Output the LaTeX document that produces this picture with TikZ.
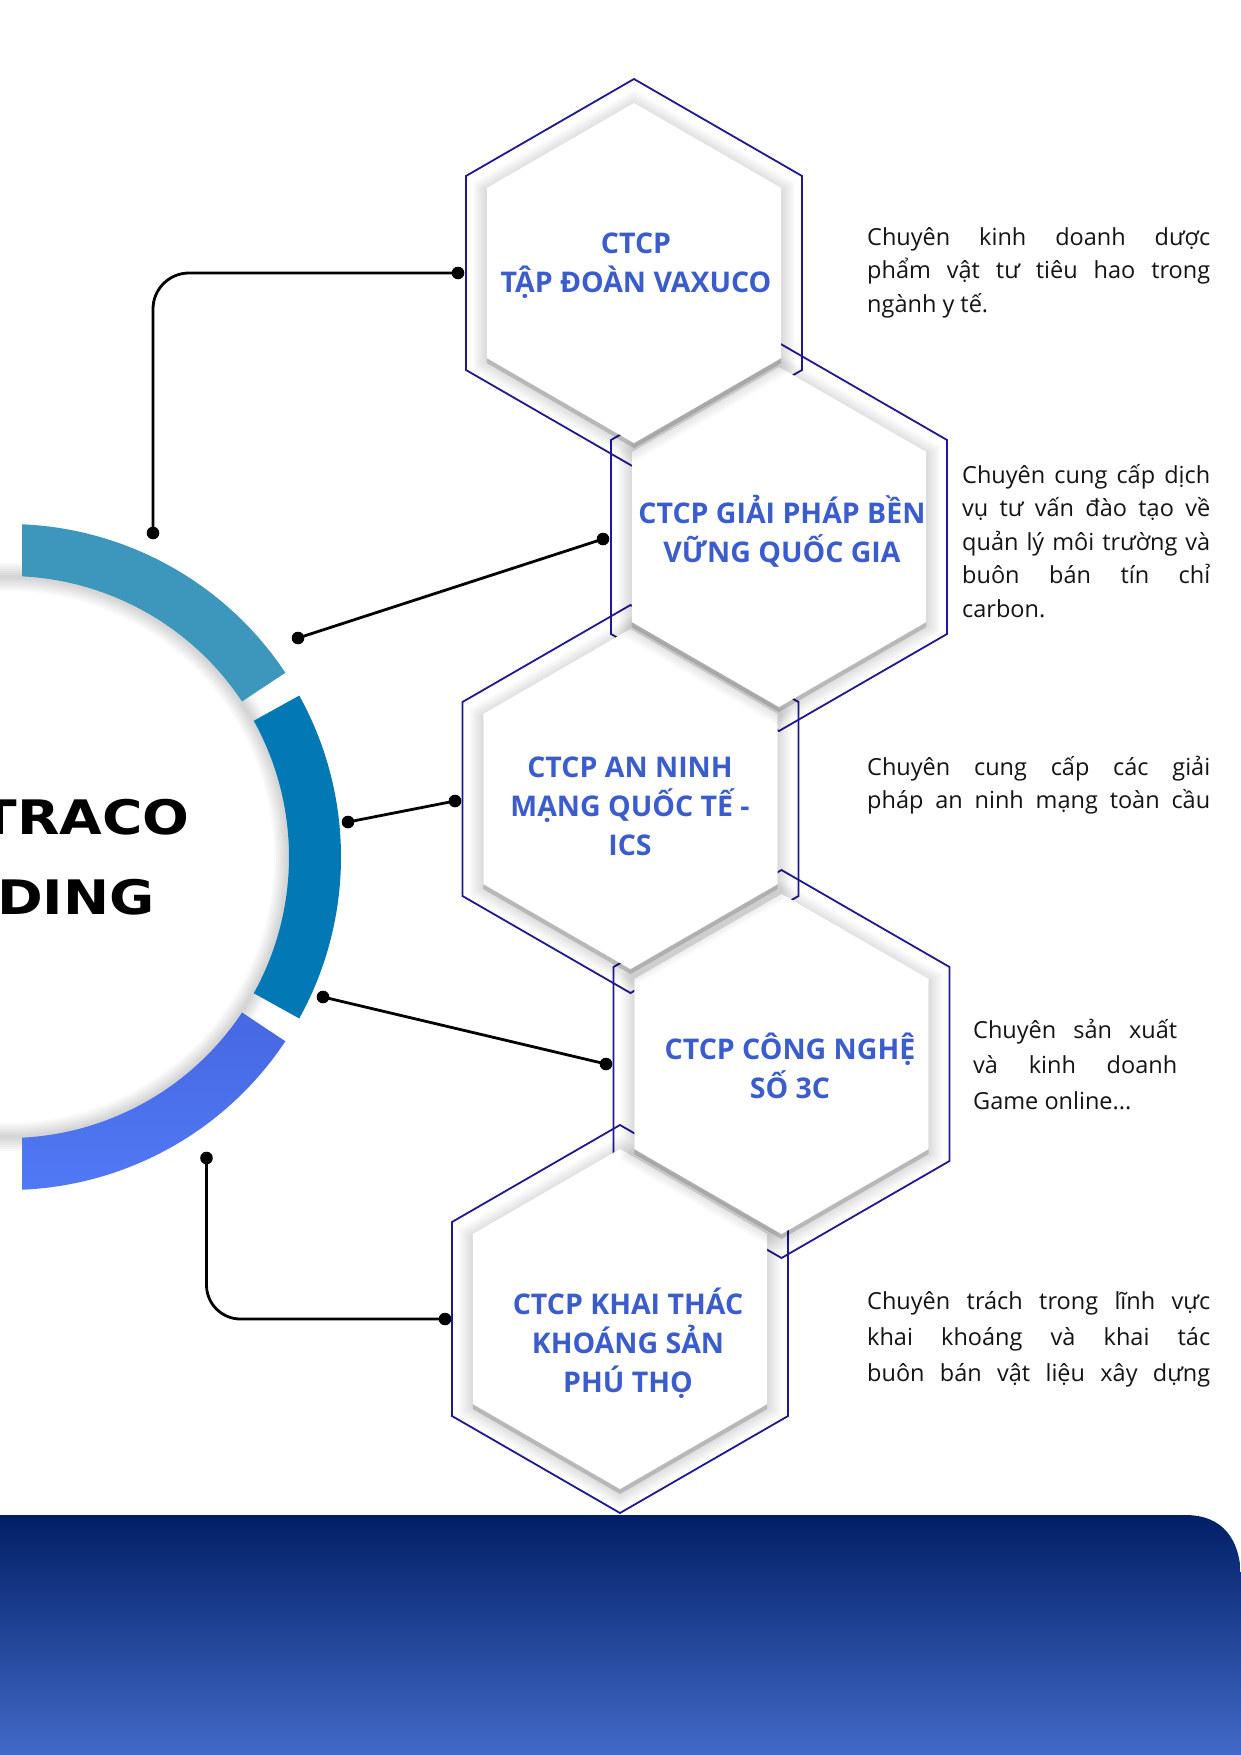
\documentclass[tikz,border=0pt]{standalone}
\usepackage{fontspec}
\setmainfont{Open Sans}
\newfontfamily\techfont[FakeStretch=1.16]{DejaVu Sans Bold}
\usetikzlibrary{calc}
\definecolor{hexblue}{RGB}{58,92,204}
\definecolor{outl}{RGB}{31,24,148}
\definecolor{arcA}{RGB}{61,151,188}
\definecolor{arcB}{RGB}{2,121,181}
\definecolor{arcC}{RGB}{82,122,246}
\definecolor{arcCt}{RGB}{70,104,226}
\definecolor{bandtop}{RGB}{1,31,102}
\definecolor{bandbot}{RGB}{66,106,200}
\definecolor{desctext}{RGB}{20,20,20}
\newcommand\hexp[3]{({#1},{#2-#3}) -- ({#1+0.8660254*#3},{#2-0.5*#3}) -- ({#1+0.8660254*#3},{#2+0.5*#3}) -- ({#1},{#2+#3}) -- ({#1-0.8660254*#3},{#2+0.5*#3}) -- ({#1-0.8660254*#3},{#2-0.5*#3}) -- cycle}
\newcommand\hexbody[2]{%
  \fill[black,fill opacity=0.16] \hexp{#1}{#2+5}{170};
  \foreach \w in {4,8,...,28}{\draw[black,draw opacity=0.019,line width=\w pt,line join=miter] \hexp{#1}{#2+3}{170};}
  \fill[white] \hexp{#1}{#2}{170};}
\tikzset{
  conn/.style={black,line width=2.8pt},
  hexoutline/.style={outl,line width=1.8pt,line join=miter},
  hexlabel/.style={text=hexblue,font=\fontsize{28.5}{39}\selectfont\bfseries,align=center,anchor=base,inner sep=0pt},
  desc/.style={text=desctext,font=\fontsize{23.5}{33.5}\selectfont,align=justify,anchor=base west,inner sep=0pt},
  bigtxt/.style={font=\techfont\fontsize{47.5}{50}\selectfont,anchor=base east,inner sep=0pt}
}
\begin{document}
\begin{tikzpicture}[x=1pt,y=-1pt]
\useasboundingbox (0,0) rectangle (1241,1755);
\fill[white] (0,0) rectangle (1241,1755);

% ---- central disk and ring ----
\coordinate (C) at (8,857);
\fill[white] (C) circle[radius=280];
\foreach \w in {4,8,...,28}{\draw[black,draw opacity=0.025,line width=\w pt] (C) circle[radius=280];}
\begin{scope}
\clip (22,400) rectangle (400,1300);
\fill[arcA] ($(C)+(-96:333)$) arc[start angle=-96,end angle=-33.6,radius=333] -- ($(C)+(-33.6:281)$) arc[start angle=-33.6,end angle=-96,radius=281] -- cycle;
\fill[arcB] ($(C)+(-29:333)$) arc[start angle=-29,end angle=29,radius=333] -- ($(C)+(29:281)$) arc[start angle=29,end angle=-29,radius=281] -- cycle;
\shade[top color=arcCt,bottom color=arcC] ($(C)+(33.6:333)$) arc[start angle=33.6,end angle=96,radius=333] -- ($(C)+(96:281)$) arc[start angle=96,end angle=33.6,radius=281] -- cycle;
\end{scope}
\node[bigtxt] (t1) at (190,834) {TRACO};
\node[bigtxt] (t2) at (155,914) {DING};

% ---- connectors ----
\coordinate (a1) at (153,533);   \coordinate (b1) at (458,273);
\coordinate (a2) at (298,638);   \coordinate (b2) at (603,539);
\coordinate (a3) at (348,822);   \coordinate (b3) at (455,801);
\coordinate (a4) at (323,997);   \coordinate (b4) at (606,1064);
\coordinate (a5) at (206.5,1158); \coordinate (b5) at (445,1319);
\draw[conn,rounded corners=36pt] (a1) |- (b1);
\draw[conn] (a2) -- (b2);
\draw[conn] (a3) -- (b3);
\draw[conn] (a4) -- (b4);
\draw[conn,rounded corners=34pt] (a5) |- (b5);
\foreach \p in {a1,b1,a2,b2,a3,b3,a4,b4,a5,b5}{\fill[black] (\p) circle[radius=6.3];}

% ---- hexagon outlines ----
\draw[hexoutline] \hexp{634}{273}{194};
\draw[hexoutline] \hexp{779}{537}{194};
\draw[hexoutline] \hexp{630.5}{799}{194};
\draw[hexoutline] \hexp{781.5}{1064}{194};
\draw[hexoutline] \hexp{620}{1319}{194};

% ---- hexagon bodies (bottom to top) ----
\hexbody{620}{1319}
\hexbody{781.5}{1064}
\hexbody{630.5}{799}
\hexbody{779}{537}
\hexbody{634}{273}

% ---- hexagon labels (anchor = baseline of last line) ----
\node[hexlabel] (h1) at (636,292.5) {CTCP\\TẬP ĐOÀN VAXUCO};
\node[hexlabel] (h2) at (782,562.5) {CTCP GIẢI PHÁP BỀN\\VỮNG QUỐC GIA};
\node[hexlabel] (h3) at (630,855) {CTCP AN NINH\\MẠNG QUỐC TẾ -\\ICS};
\node[hexlabel] (h4) at (790,1098) {CTCP CÔNG NGHỆ\\SỐ 3C};
\node[hexlabel] (h5) at (628,1392) {CTCP KHAI THÁC\\KHOÁNG SẢN\\PHÚ THỌ};

% ---- descriptions ----
\node[desc,text width=343pt] (d1) at (867,245) {Chuyên kinh doanh dược\linebreak phẩm vật tư tiêu hao trong\linebreak ngành y tế.};
\node[desc,text width=248pt] (d2) at (962,483) {Chuyên cung cấp dịch\linebreak vụ tư vấn đào tạo về\linebreak quản lý môi trường và\linebreak buôn bán tín chỉ\linebreak carbon.};
\node[desc,text width=343pt] (d3) at (867,775) {Chuyên cung cấp các giải\linebreak \makebox[\linewidth][s]{pháp an ninh mạng toàn cầu}};
\node[desc,text width=204pt,font=\fontsize{23.5}{35.5}\selectfont] (d4) at (973,1038) {Chuyên sản xuất\linebreak và kinh doanh\linebreak Game online...};
\node[desc,text width=343pt,font=\fontsize{23.5}{36}\selectfont] (d5) at (867,1309) {Chuyên trách trong lĩnh vực\linebreak khai khoáng và khai tác\linebreak \makebox[\linewidth][s]{buôn bán vật liệu xây dựng}};

% ---- bottom band ----
\shade[top color=bandtop,bottom color=bandbot] (0,1755) -- (0,1515) -- (1185,1515) .. controls (1222,1515) and (1241,1538) .. (1241,1580) -- (1241,1755) -- cycle;
\end{tikzpicture}
\end{document}
